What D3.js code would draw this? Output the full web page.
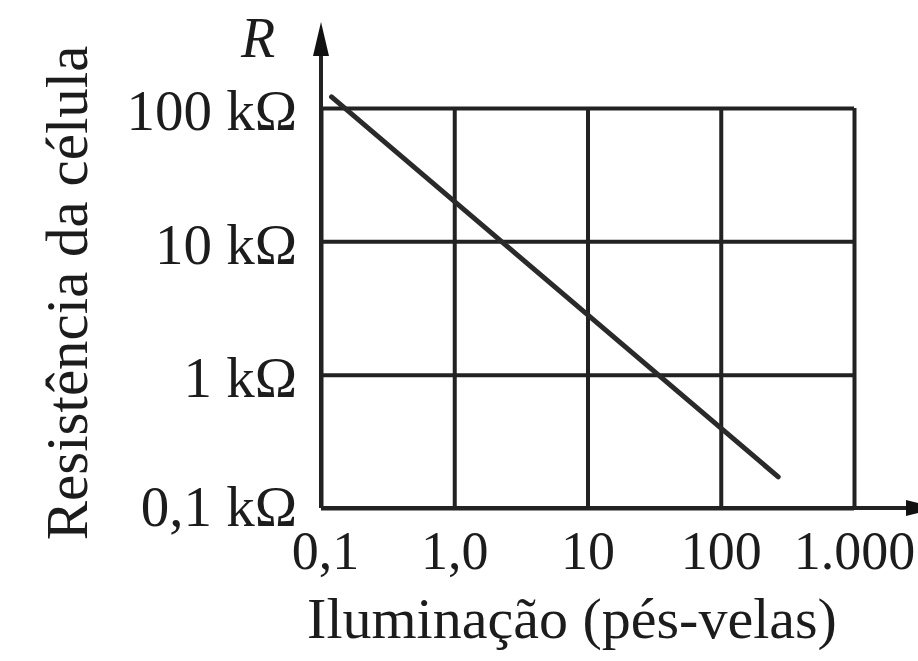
<!DOCTYPE html>
<html>
<head>
<meta charset="utf-8">
<script src="https://cdn.jsdelivr.net/npm/d3@7"></script>
<style>
  body { margin: 0; background: #fff; }
  text { font-family: "Liberation Serif", "Times New Roman", serif; fill: #1c1c1c; }
</style>
</head>
<body>
<div id="chart"></div>
<script>
// illumination (foot-candles) vs cell resistance (kOhm)
const illumination = [0.12, 270];
const resistance = [121, 0.171];

const xTicks = [0.1, 1, 10, 100, 1000];
const xTickLabels = ["0,1", "1,0", "10", "100", "1.000"];
const yTicks = [0.1, 1, 10, 100];
const yTickLabels = ["0,1 kΩ", "1 kΩ", "10 kΩ", "100 kΩ"];

const W = 918, H = 661;
const margin = {top: 108, right: 64, bottom: 153, left: 321};
const width = W - margin.left - margin.right;
const height = H - margin.top - margin.bottom;
const ink = "#222";

const svg = d3.select("#chart")
    .append("svg")
    .attr("width", W)
    .attr("height", H);

const g = svg.append("g")
    .attr("transform", `translate(${margin.left},${margin.top})`);

const x = d3.scaleLog()
    .domain([0.1, 1000])
    .range([0, width]);

const y = d3.scaleLog()
    .domain([0.1, 100])
    .range([height, 0]);

// grid + tick labels
const xAxis = g.append("g")
    .attr("transform", `translate(0,${height})`)
    .call(d3.axisBottom(x)
        .tickValues(xTicks)
        .tickFormat((d, i) => xTickLabels[i])
        .tickSize(-height)
        .tickPadding(0));
xAxis.select(".domain").remove();
xAxis.selectAll("line").attr("stroke", ink).attr("stroke-width", 4);
xAxis.selectAll("text")
    .attr("y", 61)
    .attr("dy", 0)
    .style("font-size", "54px");
xAxis.selectAll("text").filter((d, i) => i === 0).attr("dx", 4);

const yAxis = g.append("g")
    .call(d3.axisLeft(y)
        .tickValues(yTicks)
        .tickFormat((d, i) => yTickLabels[i])
        .tickSize(-width)
        .tickPadding(24));
yAxis.select(".domain").remove();
yAxis.selectAll("line").attr("stroke", ink).attr("stroke-width", 4);
yAxis.selectAll("text")
    .attr("dy", "0.38em")
    .style("font-size", "57px");
yAxis.selectAll("text").filter(d => d === 0.1).attr("dy", "0.3em");

// axes with arrows
g.append("line")
    .attr("x1", 0).attr("x2", 0)
    .attr("y1", height).attr("y2", -78)
    .attr("stroke", ink).attr("stroke-width", 4);
g.append("path")
    .attr("d", "M0,-86 L-8,-52 L8,-52 Z")
    .attr("fill", "#111");

g.append("line")
    .attr("x1", 0).attr("x2", width + 56)
    .attr("y1", height).attr("y2", height)
    .attr("stroke", ink).attr("stroke-width", 4);
g.append("path")
    .attr("d", `M${width + 84},${height} L${width + 52},${height - 8} L${width + 52},${height + 8} Z`)
    .attr("fill", "#111");

// curve
const pts = illumination.map((v, i) => [v, resistance[i]]);
g.append("path")
    .datum(pts)
    .attr("fill", "none")
    .attr("stroke", "#2a2a2a")
    .attr("stroke-width", 5)
    .attr("stroke-linecap", "round")
    .attr("d", d3.line().x(d => x(d[0])).y(d => y(d[1])));

// labels
svg.append("text")
    .attr("x", 258)
    .attr("y", 57)
    .attr("text-anchor", "middle")
    .style("font-style", "italic")
    .style("font-size", "56px")
    .text("R");

svg.append("text")
    .attr("transform", "translate(87,293) rotate(-90)")
    .attr("text-anchor", "middle")
    .style("font-size", "59px")
    .text("Resistência da célula");

svg.append("text")
    .attr("x", 572)
    .attr("y", 638)
    .attr("text-anchor", "middle")
    .style("font-size", "58px")
    .text("Iluminação (pés-velas)");
</script>
</body>
</html>
